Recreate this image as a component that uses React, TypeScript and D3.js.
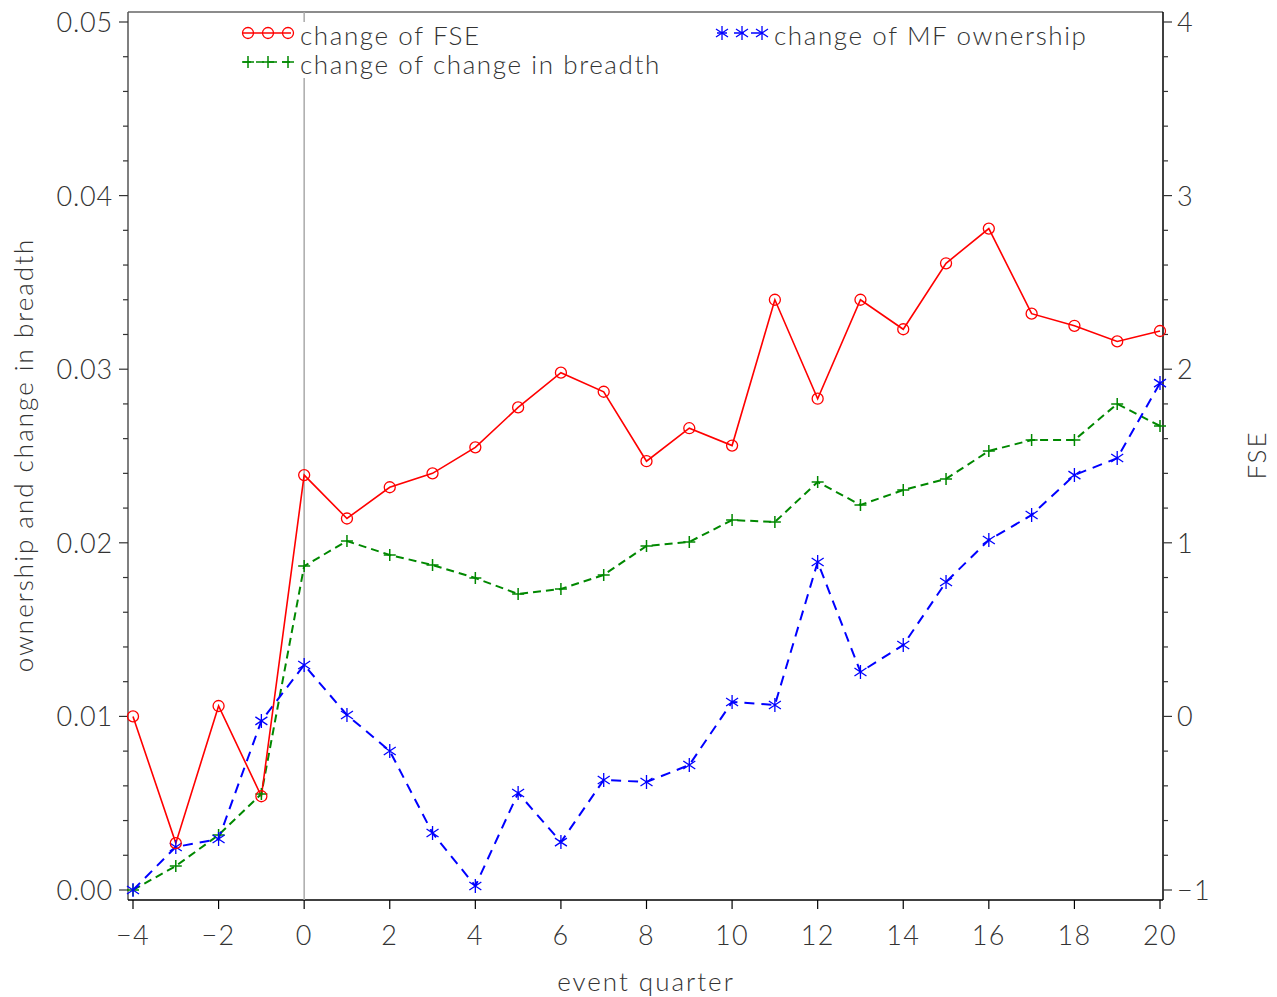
import { useEffect, useRef } from 'react'
import * as d3 from 'd3'

const quarters = d3.range(-4, 21)
const fse = [0.0, -0.73, 0.06, -0.46, 1.39, 1.14, 1.32, 1.4, 1.55, 1.78, 1.98, 1.87, 1.47, 1.66, 1.56, 2.4, 1.83, 2.4, 2.23, 2.61, 2.81, 2.32, 2.25, 2.16, 2.22]
const breadth = [0.0, 0.00138, 0.00317, 0.00553, 0.01866, 0.0201, 0.0193, 0.01872, 0.01797, 0.01705, 0.01734, 0.01815, 0.01982, 0.02005, 0.02131, 0.0212, 0.0235, 0.02218, 0.02304, 0.02368, 0.02529, 0.02592, 0.02592, 0.028, 0.02673]
const mfOwnership = [0.0, 0.00248, 0.00294, 0.00974, 0.01296, 0.01008, 0.00801, 0.00328, 0.00023, 0.00559, 0.00276, 0.00634, 0.00622, 0.0072, 0.01083, 0.01066, 0.01889, 0.01256, 0.01411, 0.01774, 0.02016, 0.0216, 0.0239, 0.02488, 0.0292]
const xTicks = d3.range(-4, 21, 2)
const leftTicks = [0, 0.01, 0.02, 0.03, 0.04, 0.05]
const rightTicks = [-1, 0, 1, 2, 3, 4]

const FONT = 'Lato, "DejaVu Sans", sans-serif'
const INK = '#333'

const App = () => {
  const ref = useRef<SVGSVGElement>(null)

  useEffect(() => {
    const svg = d3.select(ref.current)
    svg.selectAll('*').remove()

    const left = 128, right = 1163, top = 12, bottom = 900
    const x = d3.scaleLinear().domain([-4, 20]).range([133, 1160])
    const y = d3.scaleLinear().domain([0, 0.05]).range([890, 22])
    const y2 = d3.scaleLinear().domain([-1, 4]).range([890, 22])

    const g = svg.append('g')
    const txt = (size, ls = 0) => (sel) => sel.attr('font-size', size).attr('font-family', FONT).attr('font-weight', 300)
      .attr('fill', INK).attr('letter-spacing', ls)

    // frame
    g.append('line').attr('x1', left).attr('x2', right).attr('y1', top).attr('y2', top).attr('stroke', '#666').attr('stroke-width', 1.5)
    g.append('line').attr('x1', left).attr('x2', left).attr('y1', top).attr('y2', bottom).attr('stroke', '#555').attr('stroke-width', 1.5)
    g.append('line').attr('x1', right).attr('x2', right).attr('y1', top).attr('y2', bottom).attr('stroke', '#000').attr('stroke-width', 1.5)
    g.append('line').attr('x1', left).attr('x2', right).attr('y1', bottom).attr('y2', bottom).attr('stroke', '#000').attr('stroke-width', 1.5)

    // reference line at 0
    g.append('line').attr('x1', x(0)).attr('x2', x(0)).attr('y1', top).attr('y2', bottom).attr('stroke', '#aaa').attr('stroke-width', 1.5)

    // x axis
    xTicks.forEach((t) => {
      g.append('line').attr('x1', x(t)).attr('x2', x(t)).attr('y1', bottom).attr('y2', bottom + 9).attr('stroke', '#000').attr('stroke-width', 1.2)
      g.append('text').attr('x', x(t)).attr('y', bottom + 45).attr('text-anchor', 'middle')
        .call(txt(27, 1.3)).text(t < 0 ? `\u2212${-t}` : `${t}`)
    })

    // left axis
    d3.range(0, 0.0501, 0.002).forEach((t, i) => {
      const major = i % 5 === 0
      g.append('line').attr('x1', left).attr('x2', left - (major ? 9 : 5)).attr('y1', y(t)).attr('y2', y(t)).attr('stroke', '#333').attr('stroke-width', 1.2)
    })
    leftTicks.forEach((t) => {
      g.append('text').attr('x', left - 15).attr('y', y(t) + 10).attr('text-anchor', 'end')
        .call(txt(27, 0.8)).text(t.toFixed(2))
    })

    // right axis
    d3.range(-1, 4.001, 0.2).forEach((t, i) => {
      const major = i % 5 === 0
      g.append('line').attr('x1', right).attr('x2', right + (major ? 9 : 5)).attr('y1', y2(t)).attr('y2', y2(t)).attr('stroke', '#333').attr('stroke-width', 1.2)
    })
    rightTicks.forEach((t) => {
      g.append('text').attr('x', right + 14).attr('y', y2(t) + 10).attr('text-anchor', 'start')
        .call(txt(27, 1.3)).text(t < 0 ? `\u2212${-t}` : `${t}`)
    })

    // axis titles
    g.append('text').attr('transform', `translate(33, 455) rotate(-90)`).attr('text-anchor', 'middle')
      .call(txt(26, 2)).text('ownership and change in breadth')
    g.append('text').attr('transform', `translate(1266, 455) rotate(-90)`).attr('text-anchor', 'middle')
      .call(txt(26, 2)).text('FSE')
    g.append('text').attr('x', 646).attr('y', 991).attr('text-anchor', 'middle')
      .call(txt(26, 2)).text('event quarter')

    const line = d3.line<number>().x((_, i) => x(quarters[i]))

    const circle = (sel, cx, cy) => sel.append('circle').attr('cx', cx).attr('cy', cy).attr('r', 5.5).attr('fill', 'none').attr('stroke', '#f00').attr('stroke-width', 1.3)
    const plus = (sel, cx, cy) => sel.append('path').attr('d', `M${cx - 6},${cy}H${cx + 6}M${cx},${cy - 6}V${cy + 6}`).attr('stroke', '#080').attr('stroke-width', 1.5)
    const star = (sel, cx, cy) => sel.append('path')
      .attr('d', `M${cx},${cy - 7}V${cy + 7}M${cx - 6},${cy - 4}L${cx + 6},${cy + 4}M${cx - 6},${cy + 4}L${cx + 6},${cy - 4}`)
      .attr('stroke', '#00f').attr('stroke-width', 1.3)

    // series
    g.append('path').attr('d', line.y((d) => y(d))(breadth)).attr('fill', 'none').attr('stroke', '#080').attr('stroke-width', 2).attr('stroke-dasharray', '8,5')
    g.append('path').attr('d', line.y((d) => y(d))(mfOwnership)).attr('fill', 'none').attr('stroke', '#00f').attr('stroke-width', 2).attr('stroke-dasharray', '10,7')
    g.append('path').attr('d', line.y((d) => y2(d))(fse)).attr('fill', 'none').attr('stroke', '#f00').attr('stroke-width', 1.6)

    breadth.forEach((d, i) => plus(g, x(quarters[i]), y(d)))
    mfOwnership.forEach((d, i) => star(g, x(quarters[i]), y(d)))
    fse.forEach((d, i) => circle(g, x(quarters[i]), y2(d)))

    // legend
    g.append('rect').attr('x', 238).attr('y', 22).attr('width', 870).attr('height', 56).attr('fill', '#fff')
    const legendItems = [
      { lx: 243, ly: 33, label: 'change of FSE', kind: 'circle', color: '#f00', dash: null },
      { lx: 243, ly: 62, label: 'change of change in breadth', kind: 'plus', color: '#080', dash: '8,5' },
      { lx: 717, ly: 33, label: 'change of MF ownership', kind: 'star', color: '#00f', dash: '10,7' }
    ]
    legendItems.forEach((it) => {
      g.append('line').attr('x1', it.lx).attr('x2', it.lx + 48).attr('y1', it.ly).attr('y2', it.ly)
        .attr('stroke', it.color).attr('stroke-width', 1.6).attr('stroke-dasharray', it.dash)
      ;[5, 25, 45].forEach((dx) => {
        if (it.kind === 'circle') circle(g, it.lx + dx, it.ly)
        else if (it.kind === 'plus') plus(g, it.lx + dx, it.ly)
        else star(g, it.lx + dx, it.ly)
      })
      g.append('text').attr('x', it.lx + 57).attr('y', it.ly + 12)
        .call(txt(26, 1.6)).text(it.label)
    })
  }, [])

  return <svg ref={ref} width={1277} height={997} style={{ display: 'block', position: 'absolute', left: 0, top: 0, background: '#fff' }} />
}

export default App
